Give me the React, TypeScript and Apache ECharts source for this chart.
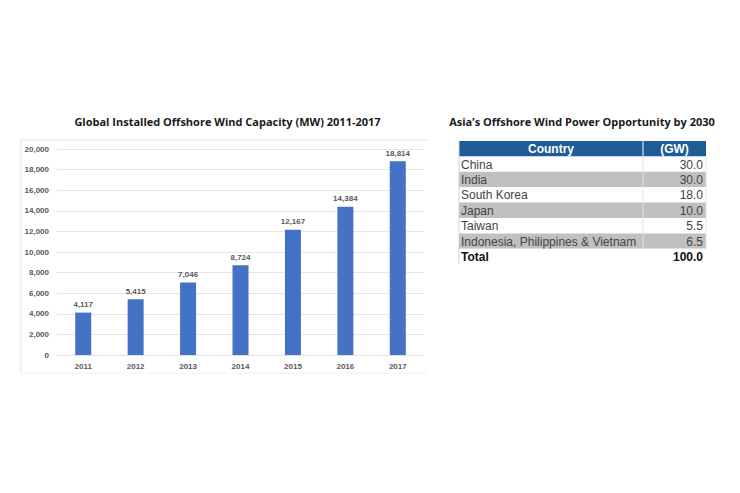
import { useEffect, useRef } from "react";
import * as echarts from "echarts";

// bar chart data
const years = ["2011", "2012", "2013", "2014", "2015", "2016", "2017"];
const capacityMW = [4117, 5415, 7046, 8724, 12167, 14384, 18814];
const yMax = 20000;
const yStep = 2000;

// table data
const tableHeader = ["Country", "(GW)"];
const countries = [
  "China",
  "India",
  "South Korea",
  "Japan",
  "Taiwan",
  "Indonesia, Philippines & Vietnam",
];
const opportunityGW = [30.0, 30.0, 18.0, 10.0, 5.5, 6.5];
const totalLabel = "Total";
const totalGW = 100.0;

const leftTitle = "Global Installed Offshore Wind Capacity (MW) 2011-2017";
const rightTitle = "Asia\u2019s Offshore Wind Power Opportunity by 2030";

function buildTable() {
  const x0 = 459;
  const x1 = 643;
  const x2 = 706;
  const top = 141;
  const rowH = 15.4;
  const els: any[] = [];

  // header
  els.push({
    type: "rect",
    shape: { x: x0, y: top, width: x2 - x0, height: rowH },
    style: { fill: "#1f5b96" },
  });
  els.push({
    type: "line",
    shape: { x1: x1, y1: top, x2: x1, y2: top + rowH },
    style: { stroke: "#ffffff", lineWidth: 1 },
  });
  tableHeader.forEach((h, i) => {
    els.push({
      type: "text",
      style: {
        text: h,
        x: i === 0 ? (x0 + x1) / 2 : (x1 + x2) / 2,
        y: top + rowH / 2 + 0.5,
        align: "center",
        verticalAlign: "middle",
        fill: "#ffffff",
        font: "bold 12px 'Liberation Sans'",
      },
    });
  });

  const rows = countries.map((c, i) => ({
    name: c,
    value: opportunityGW[i].toFixed(1),
    bold: false,
  }));
  rows.push({ name: totalLabel, value: totalGW.toFixed(1), bold: true });

  rows.forEach((r, i) => {
    const y = top + rowH * (i + 1);
    const isTotal = r.bold;
    const fill = isTotal ? "#ffffff" : i % 2 === 1 ? "#c0c0c0" : "#ffffff";
    els.push({
      type: "rect",
      shape: { x: x0, y, width: x2 - x0, height: rowH },
      style: { fill },
    });
    if (!isTotal) {
      els.push({
        type: "line",
        shape: { x1: x1, y1: y, x2: x1, y2: y + rowH },
        style: { stroke: "#e2e2e2", lineWidth: 1 },
      });
      els.push({
        type: "line",
        shape: { x1: x2, y1: y, x2: x2, y2: y + rowH },
        style: { stroke: "#e2e2e2", lineWidth: 1 },
      });
    }
    const font = `${isTotal ? "bold " : ""}12px 'Liberation Sans'`;
    const color = isTotal ? "#111111" : "#444444";
    els.push({
      type: "text",
      style: {
        text: r.name,
        x: x0 + 2,
        y: y + rowH / 2 + 0.5,
        align: "left",
        verticalAlign: "middle",
        fill: color,
        font,
      },
    });
    els.push({
      type: "text",
      style: {
        text: r.value,
        x: x2 - 3,
        y: y + rowH / 2 + 0.5,
        align: "right",
        verticalAlign: "middle",
        fill: color,
        font,
      },
    });
  });

  // left border
  els.push({
    type: "line",
    shape: { x1: x0, y1: top, x2: x0, y2: top + rowH * (rows.length + 1) },
    style: { stroke: "#d4d4d4", lineWidth: 1 },
  });
  return els;
}

export default function App() {
  const chartRef = useRef<HTMLDivElement>(null);

  useEffect(() => {
    if (!chartRef.current) return;
    const chart = echarts.init(chartRef.current, null, { renderer: "svg" });

    const option: echarts.EChartsOption = {
      animation: false,
      backgroundColor: "#ffffff",
      grid: { left: 57, top: 149, width: 367, height: 206 },
      xAxis: {
        type: "category",
        data: years,
        axisTick: { show: false },
        axisLine: { lineStyle: { color: "#e0e0e0" } },
        axisLabel: {
          color: "#595959",
          fontSize: 8,
          fontWeight: "bold",
          fontFamily: "Liberation Sans",
          margin: 7,
        },
      },
      yAxis: {
        type: "value",
        min: 0,
        max: yMax,
        interval: yStep,
        axisLine: { show: false },
        axisTick: { show: false },
        axisLabel: {
          color: "#595959",
          fontSize: 8,
          fontWeight: "bold",
          fontFamily: "Liberation Sans",
          margin: 8,
          formatter: (v: number) => v.toLocaleString("en-US"),
        },
        splitLine: { lineStyle: { color: "#e6e6e6" } },
      },
      series: [
        {
          type: "bar",
          data: capacityMW,
          barWidth: 16,
          itemStyle: { color: "#4472c4" },
          label: {
            show: true,
            position: "top",
            distance: 4,
            color: "#595959",
            fontSize: 8,
            fontWeight: "bold",
            fontFamily: "Liberation Sans",
            formatter: (p: any) => Number(p.value).toLocaleString("en-US"),
          },
        },
      ],
      graphic: [
        // chart frame
        {
          type: "line",
          shape: { x1: 21, y1: 140, x2: 428, y2: 140 },
          style: { stroke: "#e6e6e6", lineWidth: 1 },
        },
        {
          type: "line",
          shape: { x1: 21, y1: 140, x2: 21, y2: 373 },
          style: { stroke: "#e6e6e6", lineWidth: 1 },
        },
        {
          type: "line",
          shape: { x1: 21, y1: 373, x2: 428, y2: 373 },
          style: { stroke: "#f0f0f0", lineWidth: 1 },
        },
        {
          type: "text",
          style: {
            text: leftTitle,
            x: 227.5,
            y: 121,
            align: "center",
            verticalAlign: "middle",
            fill: "#1a1a1a",
            font: "bold 11px 'Open Sans'",
          },
        },
        {
          type: "text",
          style: {
            text: rightTitle,
            x: 582,
            y: 121,
            align: "center",
            verticalAlign: "middle",
            fill: "#1a1a1a",
            font: "bold 11px 'Open Sans'",
          },
        },
        ...buildTable(),
      ],
    };

    chart.setOption(option);
    return () => chart.dispose();
  }, []);

  return (
    <div
      ref={chartRef}
      style={{ position: "fixed", left: 0, top: 0, width: 740, height: 493 }}
    />
  );
}
